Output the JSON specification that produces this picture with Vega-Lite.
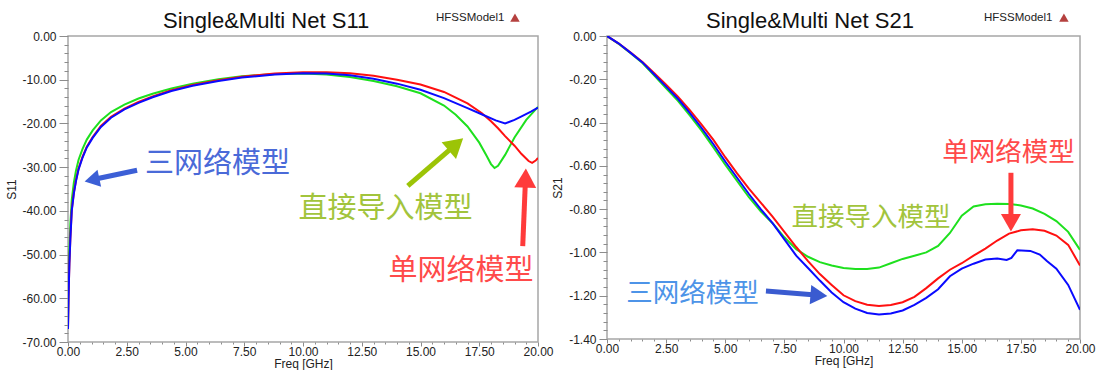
{
  "$schema": "https://vega.github.io/schema/vega-lite/v6.json",
  "background": "white",
  "padding": {"left": 5, "top": 8, "right": 2, "bottom": 0},
  "bounds": "flush",
  "spacing": 69,
  "datasets": {
    "s11": [
      {"f":0,"v":-67,"m":"direct"},{"f":0.02,"v":-58,"m":"direct"},{"f":0.05,"v":-50,"m":"direct"},{"f":0.1,"v":-43,"m":"direct"},{"f":0.16,"v":-37.5,"m":"direct"},{"f":0.25,"v":-33.5,"m":"direct"},{"f":0.34,"v":-30.8,"m":"direct"},{"f":0.45,"v":-28.3,"m":"direct"},{"f":0.62,"v":-25.8,"m":"direct"},{"f":0.8,"v":-23.7,"m":"direct"},{"f":1.05,"v":-21.6,"m":"direct"},{"f":1.4,"v":-19.3,"m":"direct"},{"f":1.83,"v":-17.4,"m":"direct"},{"f":2.4,"v":-15.7,"m":"direct"},{"f":3,"v":-14.3,"m":"direct"},{"f":3.6,"v":-13.2,"m":"direct"},{"f":4.4,"v":-12,"m":"direct"},{"f":5.3,"v":-10.9,"m":"direct"},{"f":6.4,"v":-9.9,"m":"direct"},{"f":7.4,"v":-9.2,"m":"direct"},{"f":8.8,"v":-8.7,"m":"direct"},{"f":10,"v":-8.6,"m":"direct"},{"f":11,"v":-8.8,"m":"direct"},{"f":12,"v":-9.4,"m":"direct"},{"f":13,"v":-10.3,"m":"direct"},{"f":14,"v":-11.5,"m":"direct"},{"f":15,"v":-13.1,"m":"direct"},{"f":16,"v":-15.9,"m":"direct"},{"f":16.5,"v":-18,"m":"direct"},{"f":17,"v":-20.7,"m":"direct"},{"f":17.5,"v":-24.4,"m":"direct"},{"f":17.8,"v":-27.3,"m":"direct"},{"f":18,"v":-29.3,"m":"direct"},{"f":18.15,"v":-30.2,"m":"direct"},{"f":18.3,"v":-29.7,"m":"direct"},{"f":18.6,"v":-27.2,"m":"direct"},{"f":19,"v":-23.2,"m":"direct"},{"f":19.5,"v":-19.2,"m":"direct"},{"f":20,"v":-16.2,"m":"direct"},
      {"f":0,"v":-67,"m":"single"},{"f":0.02,"v":-60,"m":"single"},{"f":0.06,"v":-52,"m":"single"},{"f":0.1,"v":-46.3,"m":"single"},{"f":0.16,"v":-39.8,"m":"single"},{"f":0.25,"v":-35.8,"m":"single"},{"f":0.34,"v":-33,"m":"single"},{"f":0.45,"v":-30.3,"m":"single"},{"f":0.62,"v":-27.6,"m":"single"},{"f":0.8,"v":-25.3,"m":"single"},{"f":1.05,"v":-23.1,"m":"single"},{"f":1.4,"v":-20.6,"m":"single"},{"f":1.83,"v":-18.5,"m":"single"},{"f":2.4,"v":-16.6,"m":"single"},{"f":3,"v":-15.1,"m":"single"},{"f":3.6,"v":-13.8,"m":"single"},{"f":4.4,"v":-12.4,"m":"single"},{"f":5.3,"v":-11.2,"m":"single"},{"f":6.4,"v":-10.1,"m":"single"},{"f":7.4,"v":-9.3,"m":"single"},{"f":8.8,"v":-8.6,"m":"single"},{"f":10,"v":-8.3,"m":"single"},{"f":11,"v":-8.3,"m":"single"},{"f":12,"v":-8.5,"m":"single"},{"f":13,"v":-9.1,"m":"single"},{"f":14,"v":-10,"m":"single"},{"f":15,"v":-11.1,"m":"single"},{"f":16,"v":-12.8,"m":"single"},{"f":17,"v":-15.4,"m":"single"},{"f":17.6,"v":-17.6,"m":"single"},{"f":18,"v":-19.5,"m":"single"},{"f":18.3,"v":-21.1,"m":"single"},{"f":18.6,"v":-22.9,"m":"single"},{"f":19,"v":-25.1,"m":"single"},{"f":19.3,"v":-27,"m":"single"},{"f":19.6,"v":-28.6,"m":"single"},{"f":19.75,"v":-29,"m":"single"},{"f":19.9,"v":-28.5,"m":"single"},{"f":20,"v":-27.9,"m":"single"},
      {"f":0,"v":-67,"m":"triple"},{"f":0.02,"v":-60,"m":"triple"},{"f":0.06,"v":-52,"m":"triple"},{"f":0.1,"v":-46.5,"m":"triple"},{"f":0.16,"v":-40,"m":"triple"},{"f":0.25,"v":-36,"m":"triple"},{"f":0.34,"v":-33.2,"m":"triple"},{"f":0.45,"v":-30.5,"m":"triple"},{"f":0.62,"v":-27.8,"m":"triple"},{"f":0.8,"v":-25.5,"m":"triple"},{"f":1.05,"v":-23.3,"m":"triple"},{"f":1.4,"v":-20.8,"m":"triple"},{"f":1.83,"v":-18.7,"m":"triple"},{"f":2.4,"v":-16.8,"m":"triple"},{"f":3,"v":-15.3,"m":"triple"},{"f":3.6,"v":-14,"m":"triple"},{"f":4.4,"v":-12.6,"m":"triple"},{"f":5.3,"v":-11.4,"m":"triple"},{"f":6.4,"v":-10.3,"m":"triple"},{"f":7.4,"v":-9.5,"m":"triple"},{"f":8.8,"v":-8.8,"m":"triple"},{"f":10,"v":-8.5,"m":"triple"},{"f":11,"v":-8.6,"m":"triple"},{"f":12,"v":-9,"m":"triple"},{"f":13,"v":-9.8,"m":"triple"},{"f":14,"v":-10.9,"m":"triple"},{"f":15,"v":-12.3,"m":"triple"},{"f":16,"v":-14.2,"m":"triple"},{"f":17,"v":-16.5,"m":"triple"},{"f":17.6,"v":-17.9,"m":"triple"},{"f":18.2,"v":-19.3,"m":"triple"},{"f":18.6,"v":-20,"m":"triple"},{"f":19,"v":-19.2,"m":"triple"},{"f":19.3,"v":-18.4,"m":"triple"},{"f":19.7,"v":-17.3,"m":"triple"},{"f":20,"v":-16.4,"m":"triple"}
    ],
    "s21": [
      {"f":0,"v":0,"m":"direct"},{"f":0.5,"v":-0.037,"m":"direct"},{"f":1,"v":-0.08,"m":"direct"},{"f":1.5,"v":-0.125,"m":"direct"},{"f":2,"v":-0.183,"m":"direct"},{"f":2.5,"v":-0.242,"m":"direct"},{"f":3,"v":-0.3,"m":"direct"},{"f":3.5,"v":-0.367,"m":"direct"},{"f":4,"v":-0.437,"m":"direct"},{"f":4.5,"v":-0.515,"m":"direct"},{"f":5,"v":-0.595,"m":"direct"},{"f":5.5,"v":-0.67,"m":"direct"},{"f":6,"v":-0.745,"m":"direct"},{"f":6.5,"v":-0.81,"m":"direct"},{"f":7,"v":-0.865,"m":"direct"},{"f":7.5,"v":-0.93,"m":"direct"},{"f":8,"v":-0.985,"m":"direct"},{"f":8.5,"v":-1.02,"m":"direct"},{"f":9,"v":-1.045,"m":"direct"},{"f":9.5,"v":-1.06,"m":"direct"},{"f":10,"v":-1.072,"m":"direct"},{"f":10.5,"v":-1.077,"m":"direct"},{"f":11,"v":-1.077,"m":"direct"},{"f":11.5,"v":-1.07,"m":"direct"},{"f":12,"v":-1.05,"m":"direct"},{"f":12.5,"v":-1.03,"m":"direct"},{"f":13,"v":-1.015,"m":"direct"},{"f":13.5,"v":-1,"m":"direct"},{"f":14,"v":-0.97,"m":"direct"},{"f":14.5,"v":-0.91,"m":"direct"},{"f":15,"v":-0.83,"m":"direct"},{"f":15.5,"v":-0.788,"m":"direct"},{"f":16,"v":-0.777,"m":"direct"},{"f":16.5,"v":-0.775,"m":"direct"},{"f":17,"v":-0.776,"m":"direct"},{"f":17.5,"v":-0.783,"m":"direct"},{"f":18,"v":-0.797,"m":"direct"},{"f":18.5,"v":-0.822,"m":"direct"},{"f":19,"v":-0.855,"m":"direct"},{"f":19.5,"v":-0.905,"m":"direct"},{"f":20,"v":-0.988,"m":"direct"},
      {"f":0,"v":0,"m":"single"},{"f":0.5,"v":-0.035,"m":"single"},{"f":1,"v":-0.077,"m":"single"},{"f":1.5,"v":-0.12,"m":"single"},{"f":2,"v":-0.172,"m":"single"},{"f":2.5,"v":-0.225,"m":"single"},{"f":3,"v":-0.28,"m":"single"},{"f":3.5,"v":-0.343,"m":"single"},{"f":4,"v":-0.41,"m":"single"},{"f":4.5,"v":-0.48,"m":"single"},{"f":5,"v":-0.56,"m":"single"},{"f":5.5,"v":-0.635,"m":"single"},{"f":6,"v":-0.705,"m":"single"},{"f":6.5,"v":-0.77,"m":"single"},{"f":7,"v":-0.835,"m":"single"},{"f":7.5,"v":-0.905,"m":"single"},{"f":8,"v":-0.975,"m":"single"},{"f":8.5,"v":-1.04,"m":"single"},{"f":9,"v":-1.1,"m":"single"},{"f":9.5,"v":-1.15,"m":"single"},{"f":10,"v":-1.198,"m":"single"},{"f":10.5,"v":-1.225,"m":"single"},{"f":11,"v":-1.242,"m":"single"},{"f":11.5,"v":-1.248,"m":"single"},{"f":12,"v":-1.243,"m":"single"},{"f":12.5,"v":-1.23,"m":"single"},{"f":13,"v":-1.205,"m":"single"},{"f":13.5,"v":-1.165,"m":"single"},{"f":14,"v":-1.12,"m":"single"},{"f":14.5,"v":-1.08,"m":"single"},{"f":15,"v":-1.05,"m":"single"},{"f":15.5,"v":-1.015,"m":"single"},{"f":16,"v":-0.982,"m":"single"},{"f":16.5,"v":-0.945,"m":"single"},{"f":17,"v":-0.913,"m":"single"},{"f":17.5,"v":-0.898,"m":"single"},{"f":18,"v":-0.893,"m":"single"},{"f":18.5,"v":-0.9,"m":"single"},{"f":19,"v":-0.922,"m":"single"},{"f":19.5,"v":-0.965,"m":"single"},{"f":20,"v":-1.06,"m":"single"},
      {"f":0,"v":0,"m":"triple"},{"f":0.5,"v":-0.035,"m":"triple"},{"f":1,"v":-0.078,"m":"triple"},{"f":1.5,"v":-0.122,"m":"triple"},{"f":2,"v":-0.178,"m":"triple"},{"f":2.5,"v":-0.234,"m":"triple"},{"f":3,"v":-0.29,"m":"triple"},{"f":3.5,"v":-0.355,"m":"triple"},{"f":4,"v":-0.425,"m":"triple"},{"f":4.5,"v":-0.5,"m":"triple"},{"f":5,"v":-0.58,"m":"triple"},{"f":5.5,"v":-0.655,"m":"triple"},{"f":6,"v":-0.73,"m":"triple"},{"f":6.5,"v":-0.8,"m":"triple"},{"f":7,"v":-0.865,"m":"triple"},{"f":7.5,"v":-0.94,"m":"triple"},{"f":8,"v":-1.015,"m":"triple"},{"f":8.5,"v":-1.072,"m":"triple"},{"f":9,"v":-1.13,"m":"triple"},{"f":9.5,"v":-1.185,"m":"triple"},{"f":10,"v":-1.23,"m":"triple"},{"f":10.5,"v":-1.26,"m":"triple"},{"f":11,"v":-1.28,"m":"triple"},{"f":11.5,"v":-1.287,"m":"triple"},{"f":12,"v":-1.282,"m":"triple"},{"f":12.5,"v":-1.268,"m":"triple"},{"f":13,"v":-1.242,"m":"triple"},{"f":13.5,"v":-1.21,"m":"triple"},{"f":14,"v":-1.17,"m":"triple"},{"f":14.5,"v":-1.11,"m":"triple"},{"f":15,"v":-1.075,"m":"triple"},{"f":15.5,"v":-1.052,"m":"triple"},{"f":16,"v":-1.033,"m":"triple"},{"f":16.5,"v":-1.028,"m":"triple"},{"f":16.9,"v":-1.035,"m":"triple"},{"f":17.1,"v":-1.025,"m":"triple"},{"f":17.35,"v":-0.99,"m":"triple"},{"f":17.9,"v":-0.993,"m":"triple"},{"f":18.3,"v":-1.01,"m":"triple"},{"f":18.6,"v":-1.04,"m":"triple"},{"f":19,"v":-1.075,"m":"triple"},{"f":19.5,"v":-1.15,"m":"triple"},{"f":20,"v":-1.265,"m":"triple"}
    ],
    "notes11": [
      {"f":6.36,"v":-29.2,"t":"三网络模型","k":"triple"},
      {"f":13.51,"v":-39.6,"t":"直接导入模型","k":"direct"},
      {"f":16.72,"v":-53.8,"t":"单网络模型","k":"single"}
    ],
    "notes21": [
      {"f":3.62,"v":-1.192,"t":"三网络模型","k":"triple"},
      {"f":11.16,"v":-0.84,"t":"直接导入模型","k":"direct"},
      {"f":16.98,"v":-0.539,"t":"单网络模型","k":"single"}
    ],
    "shafts11": [
      {"f":2.94,"v":-30.7,"f2":1.02,"v2":-32.9,"k":"triple"},
      {"f":14.46,"v":-34.3,"f2":16.51,"v2":-24.8,"k":"direct"},
      {"f":19.35,"v":-48.05,"f2":19.47,"v2":-32.5,"k":"single"}
    ],
    "shafts21": [
      {"f":6.72,"v":-1.178,"f2":8.96,"v2":-1.198,"k":"triple"},
      {"f":17.08,"v":-0.632,"f2":17.08,"v2":-0.863,"k":"single"}
    ]
  },
  "hconcat": [
    {
      "width": 470,
      "height": 306,
      "resolve": {"axis": {"x": "independent", "y": "independent"}, "scale": {"color": "independent"}},
      "layer": [
        {
          "data": {"values": [{}]},
          "mark": {"type": "point", "opacity": 0},
          "encoding": {
            "x": {"datum": 0, "type": "quantitative", "scale": {"domain": [0, 20], "nice": false, "zero": false},
              "axis": {"orient": "bottom", "values": [0.5,1,1.5,2,3,3.5,4,4.5,5.5,6,6.5,7,8,8.5,9,9.5,10.5,11,11.5,12,13,13.5,14,14.5,15.5,16,16.5,17,18,18.5,19,19.5], "labels": false, "tickSize": 2, "title": null}},
            "y": {"datum": 0, "type": "quantitative", "scale": {"domain": [-70, 0], "nice": false, "zero": false},
              "axis": {"orient": "left", "values": [-2,-4,-6,-8,-12,-14,-16,-18,-22,-24,-26,-28,-32,-34,-36,-38,-42,-44,-46,-48,-52,-54,-56,-58,-62,-64,-66,-68], "labels": false, "tickSize": 4, "title": null}}
          }
        },
        {
          "data": {"name": "s11"},
          "mark": {"type": "line", "strokeWidth": 2, "clip": true},
          "encoding": {
            "x": {"field": "f", "type": "quantitative", "scale": {"domain": [0, 20], "nice": false, "zero": false},
              "axis": {"orient": "bottom", "values": [0,2.5,5,7.5,10,12.5,15,17.5,20], "labelExpr": "replace(format(datum.value, '.2f'), '−', '-')", "tickSize": 4, "labelPadding": 0, "title": "Freq [GHz]", "titlePadding": 1}},
            "y": {"field": "v", "type": "quantitative", "scale": {"domain": [-70, 0], "nice": false, "zero": false},
              "axis": {"orient": "left", "values": [0,-10,-20,-30,-40,-50,-60,-70], "labelExpr": "replace(format(datum.value, '.2f'), '−', '-')", "tickSize": 9, "labelPadding": 3, "title": "S11", "titlePadding": 3}},
            "color": {"field": "m", "type": "nominal", "scale": {"domain": ["direct","single","triple"], "range": ["#1ee01e","#ff1010","#0a0aff"]}, "legend": null}
          }
        },
        {
          "data": {"name": "shafts11"},
          "mark": {"type": "rule", "strokeWidth": 5},
          "encoding": {
            "x": {"field": "f", "type": "quantitative", "scale": {"domain": [0, 20]}, "axis": null},
            "y": {"field": "v", "type": "quantitative", "scale": {"domain": [-70, 0]}, "axis": null},
            "x2": {"field": "f2"},
            "y2": {"field": "v2"},
            "color": {"field": "k", "type": "nominal", "scale": {"domain": ["direct","single","triple"], "range": ["#9cc406","#ff3b3b","#3c5fd6"]}, "legend": null}
          }
        },
        {
          "data": {"values": [{"f": 1.02, "v": -32.9}]},
          "mark": {"type": "point", "shape": "triangle-up", "filled": true, "opacity": 1, "size": 300, "angle": 258, "color": "#3c5fd6"},
          "encoding": {
            "x": {"field": "f", "type": "quantitative", "scale": {"domain": [0, 20]}, "axis": null},
            "y": {"field": "v", "type": "quantitative", "scale": {"domain": [-70, 0]}, "axis": null}
          }
        },
        {
          "data": {"values": [{"f": 16.51, "v": -24.8}]},
          "mark": {"type": "point", "shape": "triangle-up", "filled": true, "opacity": 1, "size": 480, "angle": 49, "color": "#9cc406"},
          "encoding": {
            "x": {"field": "f", "type": "quantitative", "scale": {"domain": [0, 20]}, "axis": null},
            "y": {"field": "v", "type": "quantitative", "scale": {"domain": [-70, 0]}, "axis": null}
          }
        },
        {
          "data": {"values": [{"f": 19.47, "v": -32.5}]},
          "mark": {"type": "point", "shape": "triangle-up", "filled": true, "opacity": 1, "size": 480, "angle": 2, "color": "#ff3b3b"},
          "encoding": {
            "x": {"field": "f", "type": "quantitative", "scale": {"domain": [0, 20]}, "axis": null},
            "y": {"field": "v", "type": "quantitative", "scale": {"domain": [-70, 0]}, "axis": null}
          }
        },
        {
          "data": {"name": "notes11"},
          "mark": {"type": "text", "font": "Noto Sans CJK SC", "fontSize": 29, "align": "center", "baseline": "middle"},
          "encoding": {
            "x": {"field": "f", "type": "quantitative", "scale": {"domain": [0, 20]}, "axis": null},
            "y": {"field": "v", "type": "quantitative", "scale": {"domain": [-70, 0]}, "axis": null},
            "text": {"field": "t"},
            "color": {"field": "k", "type": "nominal", "scale": {"domain": ["direct","single","triple"], "range": ["#a2c43c","#ff4a4a","#4a6ad8"]}, "legend": null}
          }
        },
        {
          "data": {"values": [{"f": 8.43, "v": 1.9, "t": "Single&Multi Net S11"}]},
          "mark": {"type": "text", "font": "Liberation Sans", "fontSize": 22, "align": "center", "baseline": "alphabetic", "color": "#111"},
          "encoding": {
            "x": {"field": "f", "type": "quantitative", "scale": {"domain": [0, 20]}, "axis": null},
            "y": {"field": "v", "type": "quantitative", "scale": {"domain": [-70, 0]}, "axis": null},
            "text": {"field": "t"}
          }
        },
        {
          "data": {"values": [{"f": 15.66, "v": 4.19, "t": "HFSSModel1"}]},
          "mark": {"type": "text", "font": "Liberation Sans", "fontSize": 11.5, "align": "left", "baseline": "middle", "color": "#222"},
          "encoding": {
            "x": {"field": "f", "type": "quantitative", "scale": {"domain": [0, 20]}, "axis": null},
            "y": {"field": "v", "type": "quantitative", "scale": {"domain": [-70, 0]}, "axis": null},
            "text": {"field": "t"}
          }
        },
        {
          "data": {"values": [{"f": 19.02, "v": 4.19}]},
          "mark": {"type": "point", "shape": "triangle-up", "filled": true, "opacity": 1, "size": 90, "color": "#b5413f"},
          "encoding": {
            "x": {"field": "f", "type": "quantitative", "scale": {"domain": [0, 20]}, "axis": null},
            "y": {"field": "v", "type": "quantitative", "scale": {"domain": [-70, 0]}, "axis": null}
          }
        }
      ]
    },
    {
      "width": 473,
      "height": 303,
      "resolve": {"axis": {"x": "independent", "y": "independent"}, "scale": {"color": "independent"}},
      "layer": [
        {
          "data": {"values": [{}]},
          "mark": {"type": "point", "opacity": 0},
          "encoding": {
            "x": {"datum": 0, "type": "quantitative", "scale": {"domain": [0, 20], "nice": false, "zero": false},
              "axis": {"orient": "bottom", "values": [0.5,1,1.5,2,3,3.5,4,4.5,5.5,6,6.5,7,8,8.5,9,9.5,10.5,11,11.5,12,13,13.5,14,14.5,15.5,16,16.5,17,18,18.5,19,19.5], "labels": false, "tickSize": 2, "title": null}},
            "y": {"datum": 0, "type": "quantitative", "scale": {"domain": [-1.4, 0], "nice": false, "zero": false},
              "axis": {"orient": "left", "values": [-0.04,-0.08,-0.12,-0.16,-0.24,-0.28,-0.32,-0.36,-0.44,-0.48,-0.52,-0.56,-0.64,-0.68,-0.72,-0.76,-0.84,-0.88,-0.92,-0.96,-1.04,-1.08,-1.12,-1.16,-1.24,-1.28,-1.32,-1.36], "labels": false, "tickSize": 4, "title": null}}
          }
        },
        {
          "data": {"name": "s21"},
          "mark": {"type": "line", "strokeWidth": 2, "clip": true},
          "encoding": {
            "x": {"field": "f", "type": "quantitative", "scale": {"domain": [0, 20], "nice": false, "zero": false},
              "axis": {"orient": "bottom", "values": [0,2.5,5,7.5,10,12.5,15,17.5,20], "labelExpr": "replace(format(datum.value, '.2f'), '−', '-')", "tickSize": 4, "labelPadding": 0, "title": "Freq [GHz]", "titlePadding": 1}},
            "y": {"field": "v", "type": "quantitative", "scale": {"domain": [-1.4, 0], "nice": false, "zero": false},
              "axis": {"orient": "left", "values": [0,-0.2,-0.4,-0.6,-0.8,-1,-1.2,-1.4], "labelExpr": "replace(format(datum.value, '.2f'), '−', '-')", "tickSize": 8, "labelPadding": 3, "title": "S21", "titlePadding": 4}},
            "color": {"field": "m", "type": "nominal", "scale": {"domain": ["direct","single","triple"], "range": ["#1ee01e","#ff1010","#0a0aff"]}, "legend": null}
          }
        },
        {
          "data": {"name": "shafts21"},
          "mark": {"type": "rule", "strokeWidth": 5},
          "encoding": {
            "x": {"field": "f", "type": "quantitative", "scale": {"domain": [0, 20]}, "axis": null},
            "y": {"field": "v", "type": "quantitative", "scale": {"domain": [-1.4, 0]}, "axis": null},
            "x2": {"field": "f2"},
            "y2": {"field": "v2"},
            "color": {"field": "k", "type": "nominal", "scale": {"domain": ["single","triple"], "range": ["#ff3b3b","#3a5bd0"]}, "legend": null}
          }
        },
        {
          "data": {"values": [{"f": 8.96, "v": -1.198}]},
          "mark": {"type": "point", "shape": "triangle-up", "filled": true, "opacity": 1, "size": 380, "angle": 94.5, "color": "#3a5bd0"},
          "encoding": {
            "x": {"field": "f", "type": "quantitative", "scale": {"domain": [0, 20]}, "axis": null},
            "y": {"field": "v", "type": "quantitative", "scale": {"domain": [-1.4, 0]}, "axis": null}
          }
        },
        {
          "data": {"values": [{"f": 17.08, "v": -0.863}]},
          "mark": {"type": "point", "shape": "triangle-up", "filled": true, "opacity": 1, "size": 400, "angle": 180, "color": "#ff3b3b"},
          "encoding": {
            "x": {"field": "f", "type": "quantitative", "scale": {"domain": [0, 20]}, "axis": null},
            "y": {"field": "v", "type": "quantitative", "scale": {"domain": [-1.4, 0]}, "axis": null}
          }
        },
        {
          "data": {"name": "notes21"},
          "mark": {"type": "text", "font": "Noto Sans CJK SC", "fontSize": 26.5, "align": "center", "baseline": "middle"},
          "encoding": {
            "x": {"field": "f", "type": "quantitative", "scale": {"domain": [0, 20]}, "axis": null},
            "y": {"field": "v", "type": "quantitative", "scale": {"domain": [-1.4, 0]}, "axis": null},
            "text": {"field": "t"},
            "color": {"field": "k", "type": "nominal", "scale": {"domain": ["direct","single","triple"], "range": ["#a2c43c","#ff4a4a","#4d94e8"]}, "legend": null}
          }
        },
        {
          "data": {"values": [{"f": 8.58, "v": 0.0384, "t": "Single&Multi Net S21"}]},
          "mark": {"type": "text", "font": "Liberation Sans", "fontSize": 22, "align": "center", "baseline": "alphabetic", "color": "#111"},
          "encoding": {
            "x": {"field": "f", "type": "quantitative", "scale": {"domain": [0, 20]}, "axis": null},
            "y": {"field": "v", "type": "quantitative", "scale": {"domain": [-1.4, 0]}, "axis": null},
            "text": {"field": "t"}
          }
        },
        {
          "data": {"values": [{"f": 15.94, "v": 0.0846, "t": "HFSSModel1"}]},
          "mark": {"type": "text", "font": "Liberation Sans", "fontSize": 11.5, "align": "left", "baseline": "middle", "color": "#222"},
          "encoding": {
            "x": {"field": "f", "type": "quantitative", "scale": {"domain": [0, 20]}, "axis": null},
            "y": {"field": "v", "type": "quantitative", "scale": {"domain": [-1.4, 0]}, "axis": null},
            "text": {"field": "t"}
          }
        },
        {
          "data": {"values": [{"f": 19.32, "v": 0.0846}]},
          "mark": {"type": "point", "shape": "triangle-up", "filled": true, "opacity": 1, "size": 90, "color": "#b5413f"},
          "encoding": {
            "x": {"field": "f", "type": "quantitative", "scale": {"domain": [0, 20]}, "axis": null},
            "y": {"field": "v", "type": "quantitative", "scale": {"domain": [-1.4, 0]}, "axis": null}
          }
        }
      ]
    }
  ],
  "config": {
    "font": "Liberation Sans",
    "view": {"stroke": "#a6a6a6", "strokeWidth": 1.5},
    "axis": {
      "grid": false,
      "domain": false,
      "tickColor": "#8c8c8c",
      "tickWidth": 1,
      "labelFont": "Liberation Sans",
      "labelFontSize": 12,
      "labelColor": "#222",
      "titleFont": "Liberation Sans",
      "titleFontSize": 12,
      "titleFontWeight": "normal",
      "titleColor": "#222",
      "labelFlush": false,
      "labelOverlap": false
    }
  }
}
